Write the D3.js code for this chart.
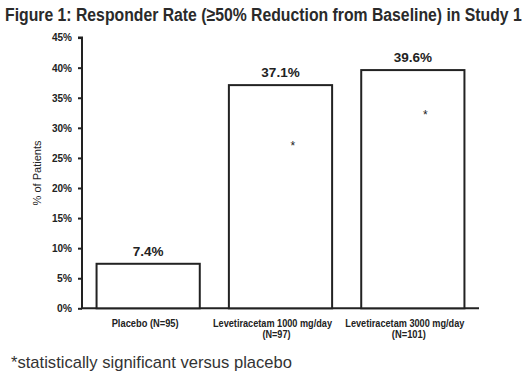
<!DOCTYPE html>
<html>
<head>
<meta charset="utf-8">
<script src="https://cdnjs.cloudflare.com/ajax/libs/d3/7.8.5/d3.min.js"></script>
<style>
  body { margin: 0; background: #fff; }
  text { font-family: "Liberation Sans", Arial, sans-serif; fill: #222; }
</style>
</head>
<body>
<div id="chart"></div>
<script>
var groups = ['Placebo (N=95)', 'Levetiracetam 1000 mg/day|(N=97)', 'Levetiracetam 3000 mg/day|(N=101)'];
var rates = [7.4, 37.1, 39.6];
var rateLabels = ['7.4%', '37.1%', '39.6%'];
var starAt = [null, 27.2, 32.3];   // where the * sits inside the bar (% units)
var yTicks = [0, 5, 10, 15, 20, 25, 30, 35, 40, 45];

// narrow fonts are not installed, so squeeze text to the width it had
function squeeze(sel, w) {
    sel.attr('textLength', w).attr('lengthAdjust', 'spacingAndGlyphs');
}

var svg = d3.select('#chart').append('svg')
    .attr('width', 528)
    .attr('height', 384);

var x = d3.scaleBand()
    .domain(groups)
    .range([82, 479])
    .paddingInner(0.22)
    .paddingOuter(0.11);

var y = d3.scaleLinear()
    .domain([0, 45])
    .range([308.3, 37.6]);

// title: scaled horizontally so the real box fits the page
var title = svg.append('text')
    .attr('x', 0)
    .attr('y', 0)
    .style('font-size', '19px')
    .style('font-weight', 'bold')
    .style('fill', '#2a2a2a')
    .text('Figure 1: Responder Rate (\u226550% Reduction from Baseline) in Study 1');
var tw = title.node().getComputedTextLength();
title.attr('transform', 'translate(5,21) scale(' + (517 / tw) + ',1)');

// y axis
var yAxis = svg.append('g')
    .attr('transform', 'translate(82,0)')
    .call(d3.axisLeft(y).tickValues(yTicks).tickSize(4).tickPadding(6)
        .tickFormat(function (d) { return d + '%'; }));
yAxis.select('.domain').attr('d', 'M-4,' + y(45) + 'H0V' + y(0)).attr('stroke', '#222').attr('stroke-width', 2);
yAxis.selectAll('.tick line').attr('stroke', '#222').attr('stroke-width', 2);
yAxis.selectAll('.tick text')
    .style('font-size', '10.5px')
    .style('font-weight', 'bold')
    .style('font-family', '"Liberation Sans", Arial, sans-serif')
    .style('fill', '#222')
    .each(function (d) { squeeze(d3.select(this), d < 10 ? 15 : 20); });

// x axis line
svg.append('line')
    .attr('x1', 81).attr('x2', 479)
    .attr('y1', y(0)).attr('y2', y(0))
    .attr('stroke', '#222').attr('stroke-width', 2);

svg.append('text')
    .attr('transform', 'translate(41,' + y(22.5) + ') rotate(-90)')
    .attr('text-anchor', 'middle')
    .style('font-size', '11.5px')
    .call(squeeze, 65)
    .text('% of Patients');

// bars
svg.selectAll('rect.bar')
    .data(groups)
    .enter().append('rect')
    .attr('class', 'bar')
    .attr('x', function (d) { return x(d); })
    .attr('y', function (d, i) { return y(rates[i]); })
    .attr('width', x.bandwidth())
    .attr('height', function (d, i) { return y(0) - y(rates[i]); })
    .attr('fill', '#fff')
    .attr('stroke', '#222')
    .attr('stroke-width', 2);

svg.selectAll('text.val')
    .data(groups)
    .enter().append('text')
    .attr('class', 'val')
    .attr('x', function (d) { return x(d) + x.bandwidth() / 2; })
    .attr('y', function (d, i) { return y(rates[i]) - 8; })
    .attr('text-anchor', 'middle')
    .style('font-size', '13.5px')
    .style('font-weight', 'bold')
    .text(function (d, i) { return rateLabels[i]; });

svg.selectAll('text.star')
    .data(groups.filter(function (d, i) { return starAt[i] != null; }))
    .enter().append('text')
    .attr('class', 'star')
    .attr('x', function (d) { return x(d) + x.bandwidth() * 0.62; })
    .attr('y', function (d) { return y(starAt[groups.indexOf(d)]) + 5; })
    .attr('text-anchor', 'middle')
    .style('font-size', '12px')
    .text('*');

// category labels
var catWidths = [[67], [119, 28], [119, 34]];
svg.selectAll('text.cat')
    .data(groups)
    .enter().append('text')
    .attr('class', 'cat')
    .attr('text-anchor', 'middle')
    .style('font-size', '10px')
    .style('font-weight', 'bold')
    .each(function (d, i) {
        var lines = d.split('|');
        var cx = x(d) + x.bandwidth() / 2 - (lines.length > 1 ? 8 : 3);
        d3.select(this).selectAll('tspan')
            .data(lines)
            .enter().append('tspan')
            .attr('x', function (l, j) { return cx + (j > 0 ? 4 : 0); })
            .attr('y', function (l, j) { return 327 + j * 11; })
            .attr('textLength', function (l, j) { return catWidths[i][j]; })
            .attr('lengthAdjust', 'spacingAndGlyphs')
            .text(function (l) { return l; });
    });

// footnote
svg.append('text')
    .attr('x', 11)
    .attr('y', 368)
    .style('font-size', '17px')
    .style('fill', '#333')
    .call(squeeze, 281)
    .text('*statistically significant versus placebo');
</script>
</body>
</html>
